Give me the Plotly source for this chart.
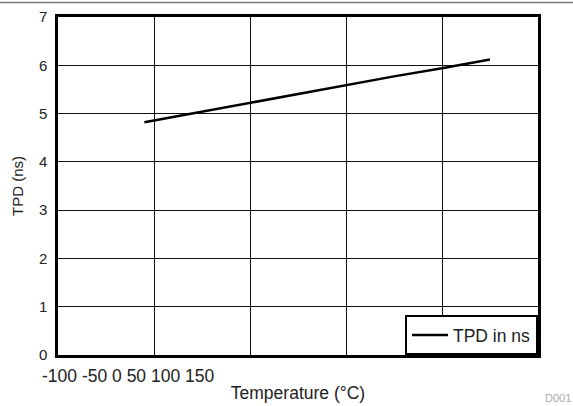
import plotly.graph_objects as go

temperature = [-55, -40, -25, -10, 0, 25, 50, 75, 100, 125]
tpd_ns = [4.82, 4.93, 5.03, 5.14, 5.22, 5.40, 5.59, 5.77, 5.94, 6.12]
x_tick_text = "-100 -50 0 50 100 150"
y_ticks = [0, 1, 2, 3, 4, 5, 6, 7]

FONT = "Liberation Sans, Arial, sans-serif"

fig = go.Figure()
fig.add_trace(go.Scatter(
    x=temperature, y=tpd_ns, mode="lines", name="TPD in ns",
    line=dict(color="black", width=2.5),
))

fig.update_layout(
    width=573, height=406,
    margin=dict(l=58, r=35, t=17, b=51, autoexpand=False),
    paper_bgcolor="white", plot_bgcolor="white",
    font=dict(family=FONT, size=15, color="#222"),
    showlegend=True,
    legend=dict(
        x=1, y=0, xanchor="right", yanchor="bottom",
        bordercolor="black", borderwidth=2, bgcolor="white",
        font=dict(size=17.5, color="#222"),
        itemwidth=36,
    ),
)
fig.update_xaxes(
    range=[-100, 150], dtick=50, tick0=-100,
    showgrid=True, gridcolor="#111", gridwidth=1.3,
    showline=True, linecolor="black", linewidth=2.5, mirror=True,
    showticklabels=False, ticks="", zeroline=False, automargin=False,
    title=dict(text="Temperature (°C)", font=dict(size=17.5), standoff=30),
)
fig.update_yaxes(
    range=[0, 7], tickvals=y_ticks,
    showgrid=True, gridcolor="#111", gridwidth=1.3,
    showline=True, linecolor="black", linewidth=2.5, mirror=True,
    ticks="", ticklabelstandoff=5, zeroline=False, automargin=False,
    tickfont=dict(size=15),
    title=dict(text="TPD (ns)", font=dict(size=15), standoff=12),
)
fig.add_annotation(
    text=x_tick_text, xref="paper", yref="paper",
    x=-18 / 480, y=-0.028, xanchor="left", yanchor="top",
    showarrow=False, font=dict(size=17.5, color="#222"),
)
fig.add_annotation(
    text="D001", xref="paper", yref="paper",
    x=1.072, y=-0.105, xanchor="right", yanchor="top",
    showarrow=False, font=dict(size=11, color="#aaa"),
)
fig.add_shape(
    type="line", xref="paper", yref="paper",
    x0=-58 / 480, x1=515 / 480, y0=(338 + 14.5) / 338, y1=(338 + 14.5) / 338,
    line=dict(color="#777", width=1.5),
)

fig.write_html("out.html")
